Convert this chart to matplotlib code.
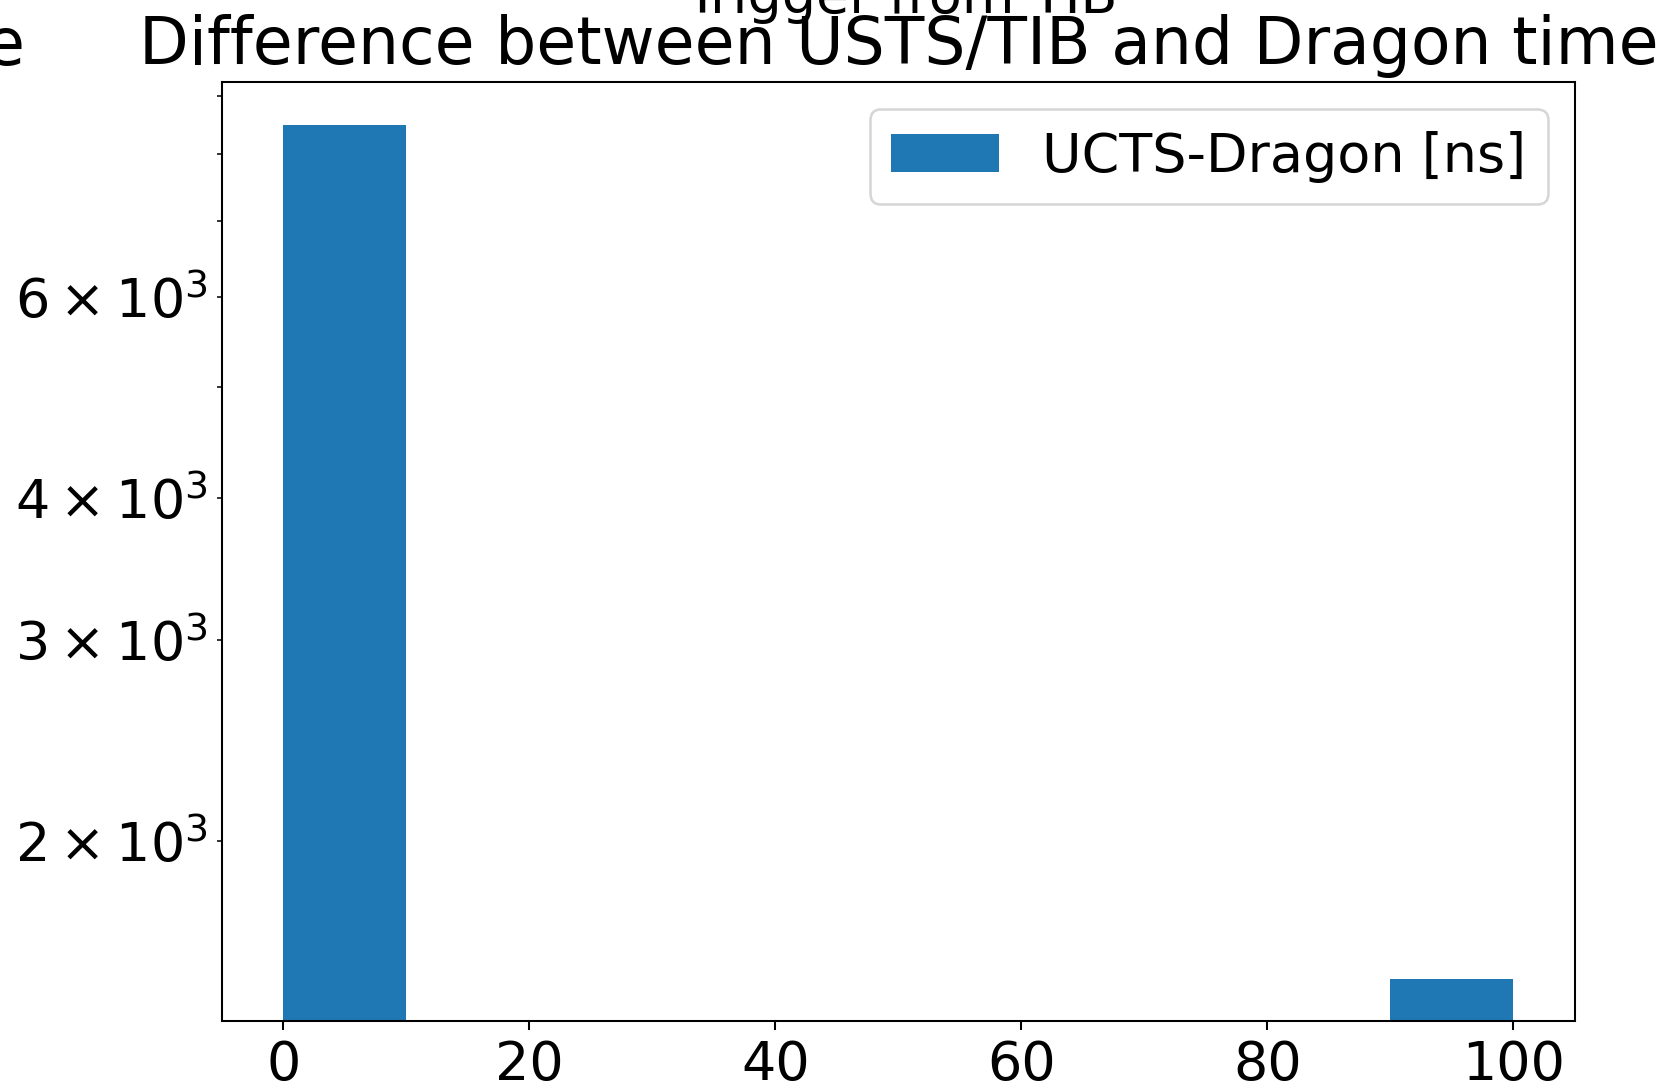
import numpy as np
import matplotlib
matplotlib.use("Agg")
import matplotlib.pyplot as plt

# histogram of UCTS - Dragon time difference, 10 bins over 0..100 ns
bin_edges = [0, 10, 20, 30, 40, 50, 60, 70, 80, 90, 100]
bin_counts = [8490, 0, 0, 0, 0, 0, 0, 0, 0, 1515]
series_label = 'UCTS-Dragon [ns]'
title = 'Difference between USTS/TIB and Dragon time'
suptitle = 'Trigger from TIB'

plt.rcParams['font.size'] = 21

dpi = 185
fig = plt.figure(figsize=(1671 / dpi, 1089 / dpi), dpi=dpi)
ax = fig.add_axes([221.7 / 1671, 1 - 1021 / 1089, (1575 - 221.7) / 1671, (1021 - 82) / 1089])

centers = np.array(bin_edges[:-1]) + 5
ax.hist(centers, bins=bin_edges, weights=bin_counts, log=True, label=series_label)
ax.set_ylim(1391, 9258)
ax.set_title(title, pad=7)
ax.legend(loc='upper right')

# neighbouring panel's title and the figure title, both cut by the crop
fig.text(24 / 1671, 1 - 65 / 1089, 'e', ha='right', va='baseline', fontsize=25.2)
fig.text(901 / 1671, 1 - 13 / 1089, suptitle, ha='center', va='baseline', fontsize=21)

fig.savefig('out.png', dpi=dpi)
